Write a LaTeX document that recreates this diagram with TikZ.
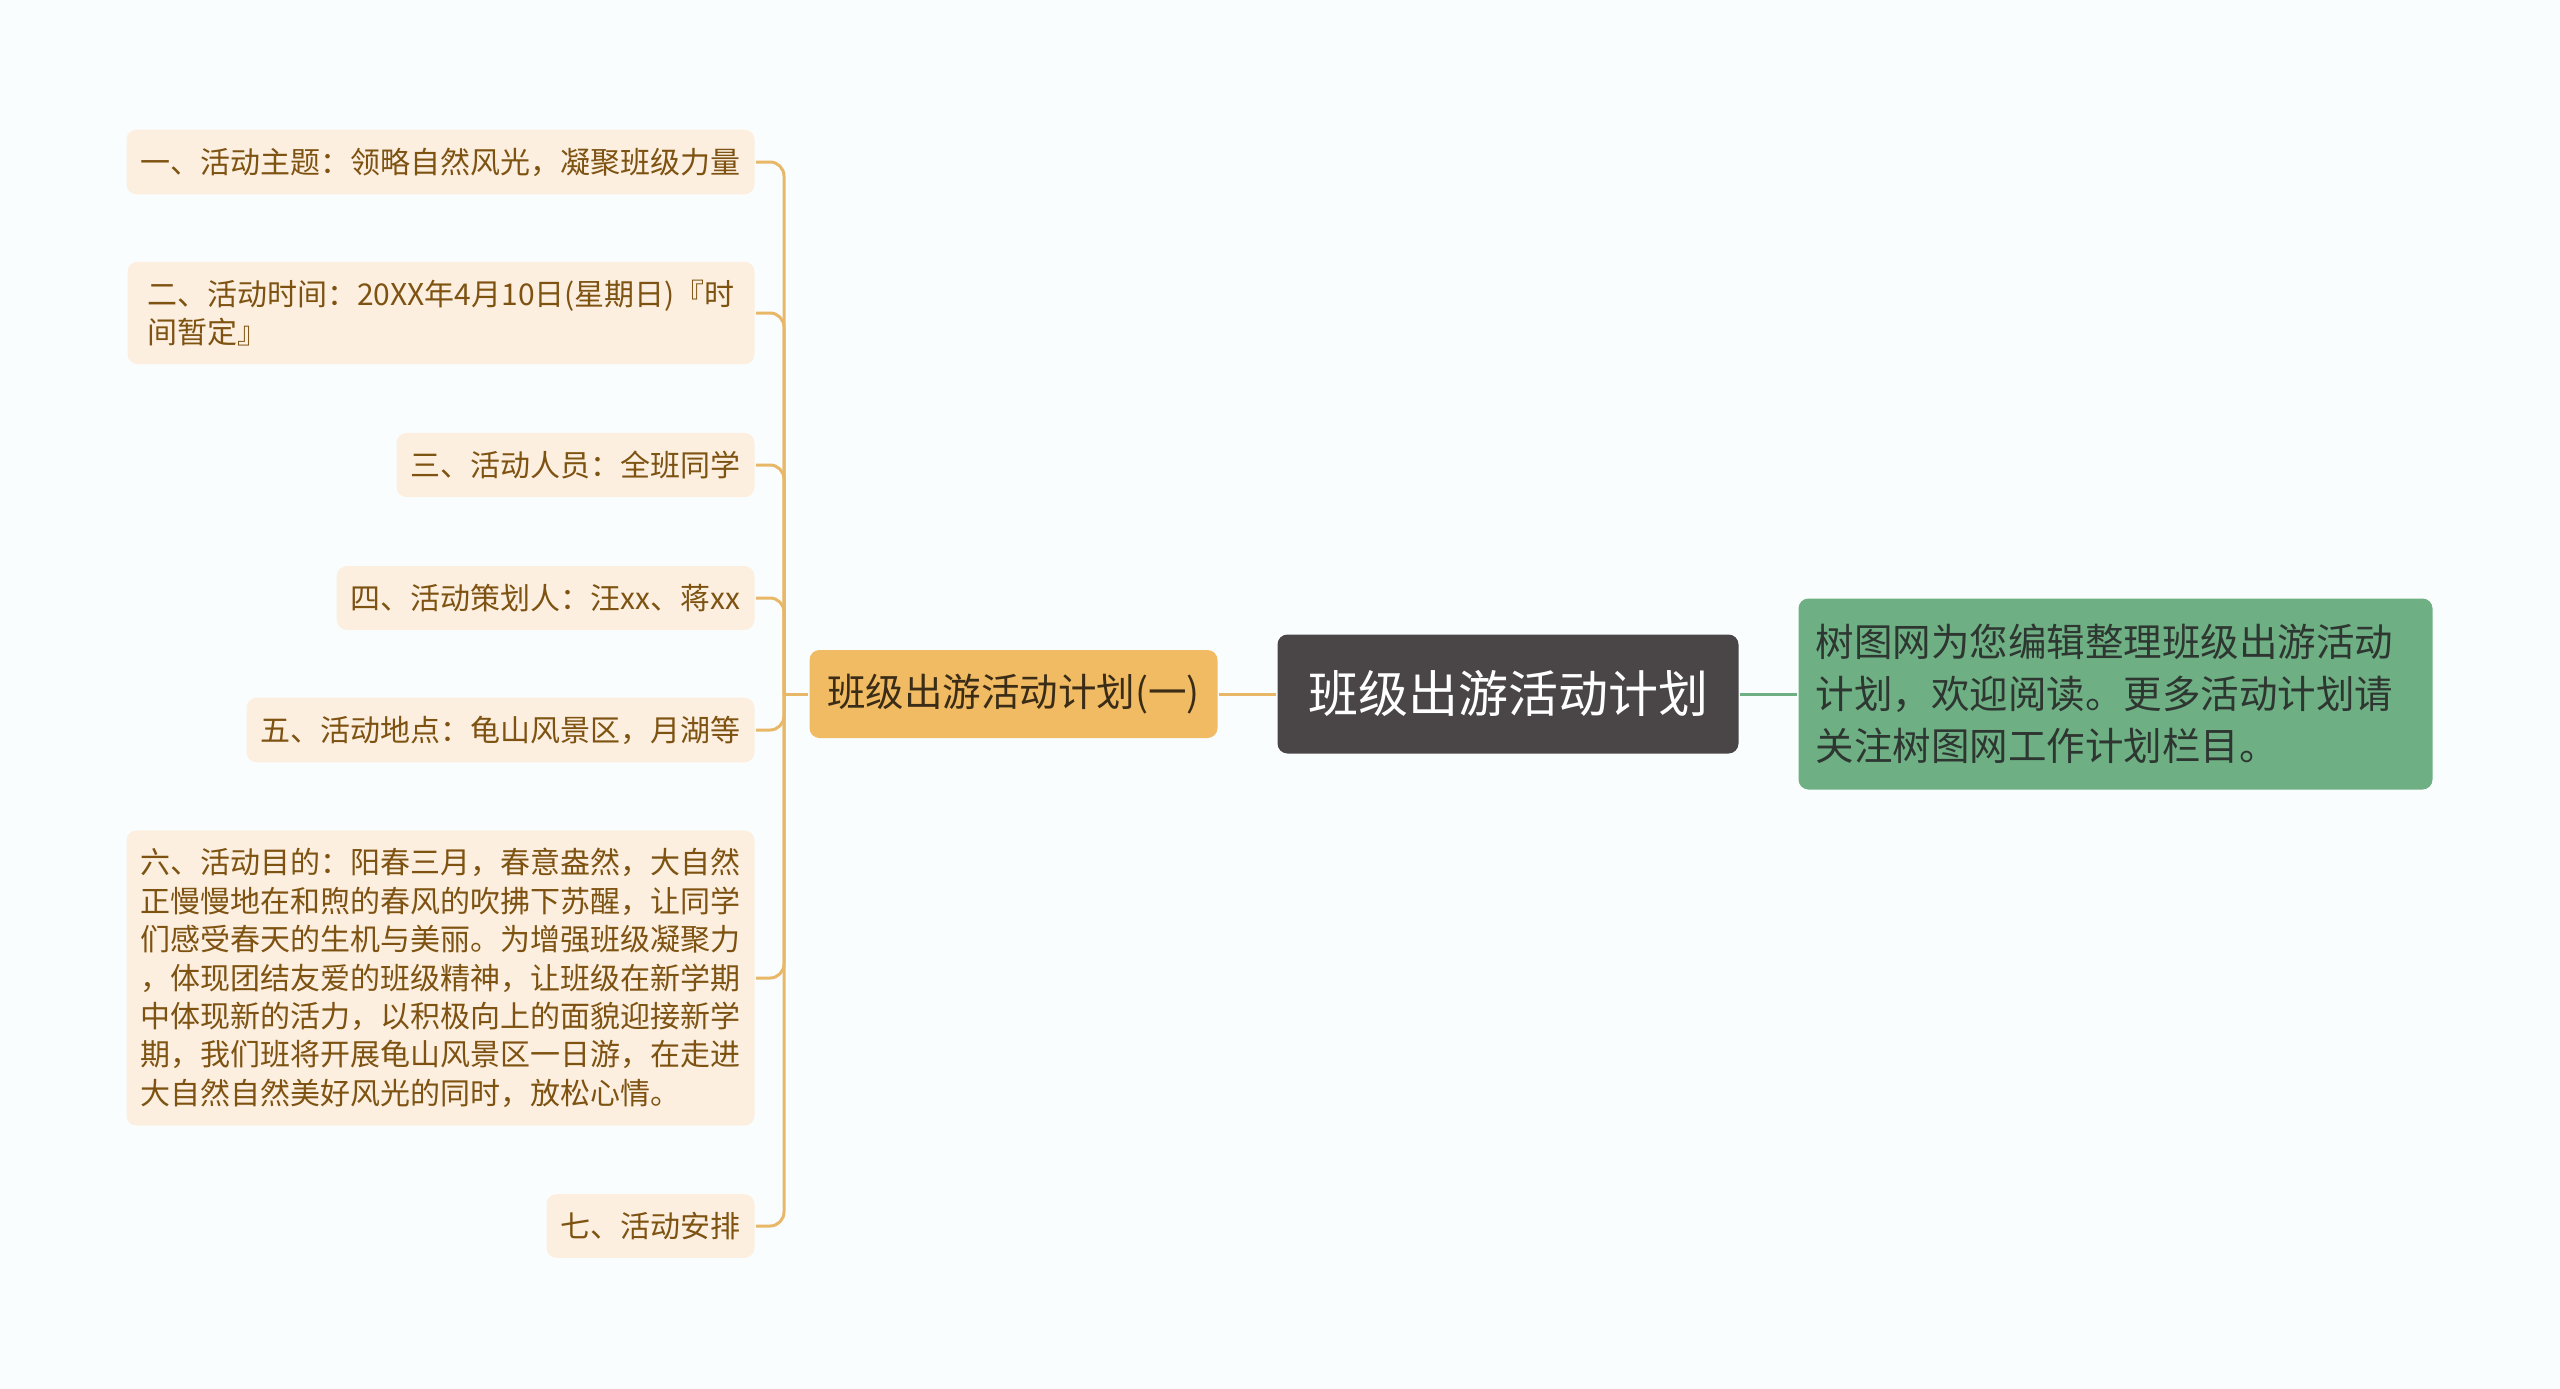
\documentclass[tikz,border=0pt]{standalone}
\usepackage{fontspec}
\setmainfont{Noto Sans CJK SC}
\usetikzlibrary{positioning}
\definecolor{pagebg}{HTML}{FAFDFD}
\definecolor{leafbg}{HTML}{FCEFE0}
\definecolor{leaftext}{HTML}{7E5312}
\definecolor{orangeline}{HTML}{E8B868}
\definecolor{subbg}{HTML}{F0BB62}
\definecolor{subtext}{HTML}{3A2C17}
\definecolor{rootbg}{HTML}{4A4546}
\definecolor{notebg}{HTML}{6EB083}
\definecolor{notetext}{HTML}{2E3631}

\begin{document}
\begin{tikzpicture}[x=1pt,y=-1pt,line width=3pt]
  \tikzstyle{leaf}=[fill=leafbg,text=leaftext,rounded corners=10pt,inner xsep=14pt,inner ysep=18pt,anchor=east,align=left,font=\fontsize{30}{38.4}\selectfont]
  \tikzstyle{sub}=[fill=subbg,text=subtext,rounded corners=10pt,minimum width=408pt,minimum height=88pt,font=\fontsize{38.5}{48}\selectfont]
  \tikzstyle{root}=[fill=rootbg,text=white,rounded corners=10pt,minimum width=461pt,minimum height=119pt,font=\fontsize{50}{60}\selectfont]
  \tikzstyle{note}=[fill=notebg,text=notetext,rounded corners=10pt,text width=600pt,minimum height=191pt,inner xsep=17pt,align=left,font=\fontsize{38.5}{52}\selectfont]
  \tikzstyle{branch}=[draw=orangeline,rounded corners=14pt,to path={|- (\tikztotarget)}]
  \useasboundingbox[fill=pagebg] (0,0) rectangle (2560,1389);

  \node[root]  (R)                  at (1508,694) {班级出游活动计划};
  \node[sub]   (S) [left=57pt of R]                {班级出游活动计划(一)};
  \node[note]  (N) [right=57pt of R]               {树图网为您编辑整理班级出游活动\\计划，欢迎阅读。更多活动计划请\\关注树图网工作计划栏目。};
  \coordinate  (sp)                 at (784,694);

  \node[leaf] (L1) at (756,162)  {一、活动主题：领略自然风光，凝聚班级力量};
  \node[leaf,minimum width=627pt] (L2) at (756,313)  {二、活动时间：20XX年4月10日(星期日)『时\\间暂定』};
  \node[leaf] (L3) at (756,465)  {三、活动人员：全班同学};
  \node[leaf] (L4) at (756,598)  {四、活动策划人：汪xx、蒋xx};
  \node[leaf] (L5) at (756,730)  {五、活动地点：龟山风景区，月湖等};
  \node[leaf] (L6) at (756,978)  {六、活动目的：阳春三月，春意盎然，大自然\\正慢慢地在和煦的春风的吹拂下苏醒，让同学\\们感受春天的生机与美丽。为增强班级凝聚力\\，体现团结友爱的班级精神，让班级在新学期\\中体现新的活力，以积极向上的面貌迎接新学\\期，我们班将开展龟山风景区一日游，在走进\\大自然自然美好风光的同时，放松心情。};
  \node[leaf] (L7) at (756,1226) {七、活动安排};

  \draw[orangeline] (S.east) -- (R.west);
  \draw[notebg]     (R.east) -- (N.west);
  \draw[orangeline] (S.west) -- (sp);
  \path [branch]
        (sp) edge (L1.east)
             edge (L2.east)
             edge (L3.east)
             edge (L4.east)
             edge (L5.east)
             edge (L6.east)
             edge (L7.east);
\end{tikzpicture}
\end{document}
